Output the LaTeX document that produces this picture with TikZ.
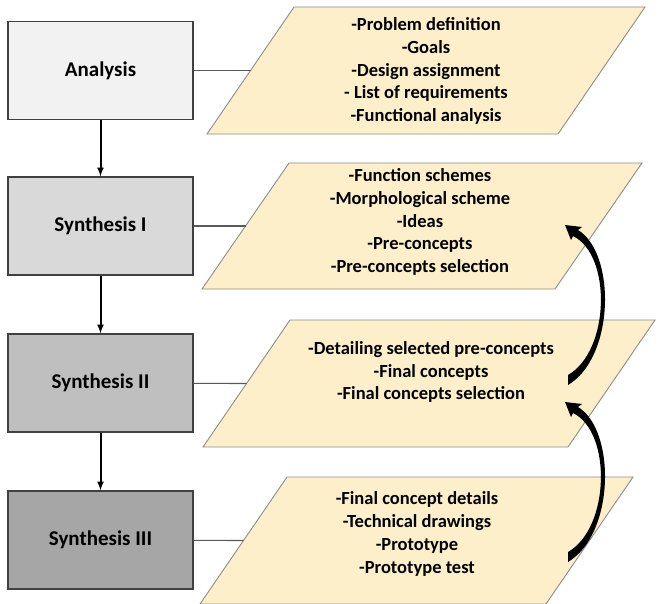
\documentclass[tikz,border=0pt]{standalone}
\usepackage{fontspec}
\setmainfont{Carlito}
\usetikzlibrary{arrows,calc}
\definecolor{paper}{HTML}{FCEFC9}

\begin{document}
\begin{tikzpicture}[x=1pt,y=-1pt,
    stage/.style={draw=black!75,line width=1.2pt,minimum width=185pt,minimum height=98pt,font=\fontsize{21}{25}\selectfont\bfseries},
    items/.style={align=center,font=\fontsize{18.5}{22.7}\selectfont\bfseries},
    sheet/.style={fill=paper,draw=black!45,line width=0.9pt},
    link/.style={draw=black!65,line width=1.1pt},
    flow/.style={line width=2pt,-latex}]
    \useasboundingbox (0,0) rectangle (659,603);
    \clip (0,0) rectangle (659,603);

    \node[stage,fill=black!5] (analysis) at (100.5,70.5) {Analysis};
    \node[stage,fill=black!15] (synthA) at (100.5,226) {Synthesis I};
    \node[stage,fill=black!25] (synthB) at (100.5,383) {Synthesis II};
    \node[stage,fill=black!35] (synthC) at (100.5,540) {Synthesis III};

    \draw[flow] (analysis) -- (synthA);
    \draw[flow] (synthA) -- (synthB);
    \draw[flow] (synthB) -- (synthC);

    \draw[sheet] (207,134) -- (294,7) -- (645,7) -- (558,134) -- cycle;
    \coordinate (sheetA) at (250.5,70.5);
    \node[items] (listA) at (426,71) {-Problem definition\\-Goals\\-Design assignment\\- List of requirements\\-Functional analysis};

    \draw[sheet] (202,289) -- (289,163) -- (642,163) -- (555,289) -- cycle;
    \coordinate (sheetB) at (245.5,226);
    \node[items] (listB) at (420,222) {-Function schemes\\-Morphological scheme\\-Ideas\\-Pre-concepts\\-Pre-concepts selection};

    \draw[sheet] (203,447) -- (290,320) -- (655,320) -- (568,447) -- cycle;
    \coordinate (sheetC) at (246.5,383.5);
    \node[items] (listC) at (431,372) {-Detailing selected pre-concepts\\-Final concepts\\-Final concepts selection};

    \draw[sheet] (200,604) -- (287,477) -- (633,477) -- (546,604) -- cycle;
    \coordinate (sheetD) at (243.5,540.5);
    \node[items] (listD) at (417,534) {-Final concept details\\-Technical drawings\\-Prototype\\-Prototype test};

    \draw[link] (analysis) -- (sheetA);
    \draw[link] (synthA) -- (sheetB);
    \draw[link] (synthB) -- (sheetC);
    \draw[link] (synthC) -- (sheetD);

    % curved arrows back up
    \fill (568,562) .. controls (615,534) and (616,430) .. (578,407) -- (582,404) -- (565,402) -- (571,417) -- (573,413) .. controls (612,432) and (610,528) .. (568,552) -- cycle;
    \fill[shift={(0,-177)}] (568,562) .. controls (615,534) and (616,430) .. (578,407) -- (582,404) -- (565,402) -- (571,417) -- (573,413) .. controls (612,432) and (610,528) .. (568,552) -- cycle;
  \end{tikzpicture}
\end{document}
